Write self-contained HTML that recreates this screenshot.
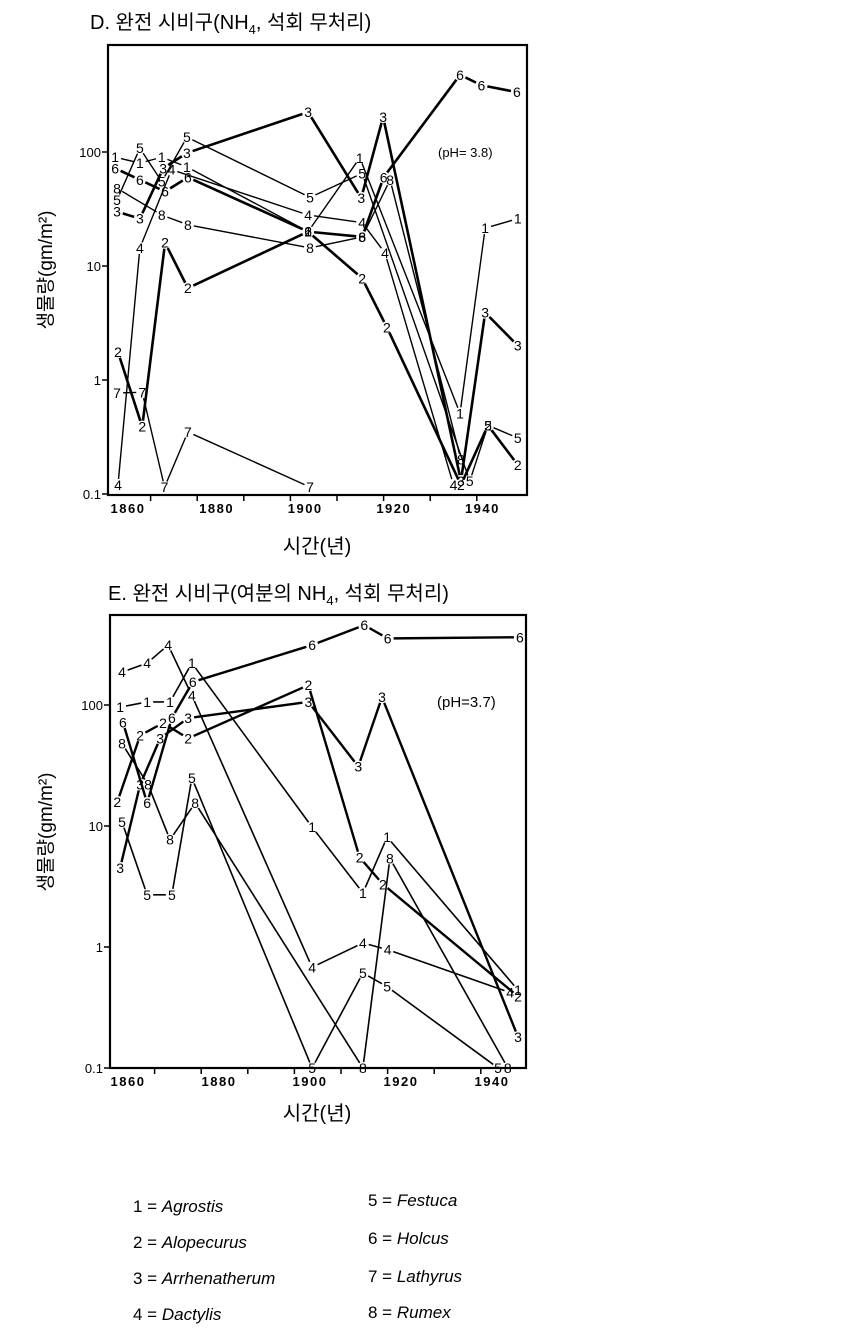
<!DOCTYPE html>
<html><head><meta charset="utf-8">
<style>
body{margin:0;background:#fff;}
svg{display:block;font-family:"Liberation Sans","Noto Sans CJK KR",sans-serif;}
</style></head>
<body>
<svg id="fig" width="865" height="1337" viewBox="0 0 865 1337">
  <text x="90" y="29" font-size="20">D. 완전 시비구(NH<tspan font-size="13" dy="5">4</tspan><tspan dy="-5">, 석회 무처리)</tspan></text>
  <text x="108" y="600" font-size="20">E. 완전 시비구(여분의 NH<tspan font-size="13" dy="5">4</tspan><tspan dy="-5">, 석회 무처리)</tspan></text>
  <text transform="translate(52,270) rotate(-90)" text-anchor="middle" font-size="19">생물량(gm/m²)</text>
  <text transform="translate(52,832) rotate(-90)" text-anchor="middle" font-size="19">생물량(gm/m²)</text>
  <text x="317" y="553" text-anchor="middle" font-size="20">시간(년)</text>
  <text x="317" y="1120" text-anchor="middle" font-size="20">시간(년)</text>
  <text x="438" y="157" font-size="13">(pH= 3.8)</text>
  <text x="437" y="707" font-size="15">(pH=3.7)</text>
  <g id="gd"></g>
  <g id="ge"></g>
  <g font-size="17">
    <text x="133" y="1212">1 = <tspan font-style="italic">Agrostis</tspan></text>
    <text x="133" y="1248">2 = <tspan font-style="italic">Alopecurus</tspan></text>
    <text x="133" y="1284">3 = <tspan font-style="italic">Arrhenatherum</tspan></text>
    <text x="133" y="1320">4 = <tspan font-style="italic">Dactylis</tspan></text>
    <text x="368" y="1206">5 = <tspan font-style="italic">Festuca</tspan></text>
    <text x="368" y="1244">6 = <tspan font-style="italic">Holcus</tspan></text>
    <text x="368" y="1282">7 = <tspan font-style="italic">Lathyrus</tspan></text>
    <text x="368" y="1318">8 = <tspan font-style="italic">Rumex</tspan></text>
  </g>
</svg>
<script>
const yTickValues=[100,10,1,0.1];
const yTickLabels=["100","10","1","0.1"];
const xTickYears=[1870,1880,1890,1900,1910,1920,1930,1940];
const xLabelYears=[1860,1880,1900,1920,1940];
const seriesIds=["1","2","3","4","5","6","7","8"];

const dYears1=[1862.4,1867.7,1872.4,1877.8,1903.8,1914.9,1936.4,1941.8,1948.8];
const dVals1=[90,80,90,74,20,89,0.51,21.5,26];
const dYears2=[1863,1868.2,1873.1,1878,1903.8,1915.4,1920.7,1936.6,1942.4,1948.8];
const dVals2=[1.76,0.39,16,6.4,20,7.8,2.9,0.12,0.4,0.18];
const dYears3=[1862.8,1867.7,1872.7,1877.8,1903.8,1915.2,1919.9,1936.6,1941.8,1948.8];
const dVals3=[30,26,72,98,224,39.5,203,0.13,3.9,2.0];
const dYears4=[1863,1867.7,1874.5,1903.8,1915.4,1920.3,1935];
const dVals4=[0.12,14.4,70,28,24,13,0.12];
const dYears5=[1862.8,1867.7,1872.4,1877.8,1904.2,1915.4,1938.5,1942.4,1948.8];
const dVals5=[38,108,55,135,40,65,0.13,0.4,0.31];
const dYears6=[1862.4,1867.7,1873.1,1878,1903.8,1915.4,1920,1936.4,1941,1948.6];
const dVals6=[72,57,45,60,20,18,60,475,385,335];
const dYears7=[1862.8,1868.2,1873,1878,1904.2];
const dVals7=[0.77,0.78,0.115,0.35,0.115];
const dYears8=[1862.8,1872.4,1878,1904.2,1915.4,1921.4,1936.6];
const dVals8=[48,28,23,14.4,18,57,0.2];

const eYears1=[1862.6,1868.4,1873.3,1878,1903.8,1914.7,1919.9,1948];
const eVals1=[96,106,106,222,9.8,2.8,8.1,0.44];
const eYears2=[1862,1866.9,1871.8,1877.2,1903,1914,1919,1948];
const eVals2=[15.8,56,71,53,146,5.5,3.3,0.39];
const eYears3=[1862.6,1866.9,1871.2,1877.2,1903,1913.7,1918.8,1948];
const eVals3=[4.5,22,53,78,106,31,116,0.18];
const eYears4=[1863,1868.4,1872.9,1878,1903.8,1914.7,1920,1946.3];
const eVals4=[187,222,313,120,0.68,1.08,0.95,0.42];
const eYears5=[1863,1868.4,1873.7,1878,1903.8,1914.7,1919.9,1943.7];
const eVals5=[10.8,2.7,2.7,25,0.1,0.61,0.47,0.1];
const eYears6=[1863.2,1868.4,1873.7,1878.2,1903.8,1915,1920,1948.4];
const eVals6=[72,15.5,78,155,313,457,355,363];
const eYears7=[];
const eVals7=[];
const eYears8=[1863,1868.6,1873.3,1878.7,1914.7,1920.5,1945.8];
const eVals8=[48,22,7.7,15.5,0.1,5.4,0.1];

const NS="http://www.w3.org/2000/svg";
function mk(tag,attrs,parent){const e=document.createElementNS(NS,tag);for(const k in attrs)e.setAttribute(k,attrs[k]);parent.appendChild(e);return e;}

function drawChart(g,cfg,years,vals,widths,prefix){
  const xs=yr=>cfg.x0+(yr-1860)*cfg.xs;
  const xl=yr=>cfg.lx0+(yr-1860)*cfg.lxs;
  const ys=v=>cfg.y1-cfg.dec*Math.log10(v);
  const box=mk('rect',{x:cfg.left,y:cfg.top,width:cfg.right-cfg.left,height:cfg.bottom-cfg.top,fill:'none',stroke:'#000','stroke-width':2.2},g);
  
  
  yTickValues.forEach((v,i)=>{
    const y=ys(v);
    const t=mk('line',{x1:cfg.left-6,x2:cfg.left,y1:y,y2:y,stroke:'#000','stroke-width':1.5},g);
    
    
    const l=mk('text',{x:cfg.left-7,y:y+5,'text-anchor':'end','font-size':13},g);
    l.textContent=yTickLabels[i];
    
    
  });
  xTickYears.forEach(yr=>{
    const x=xs(yr);
    const t=mk('line',{x1:x,x2:x,y1:cfg.bottom,y2:cfg.bottom+6,stroke:'#000','stroke-width':1.5},g);
    
    
  });
  xLabelYears.forEach(yr=>{
    const l=mk('text',{x:xl(yr),y:cfg.bottom+18,'text-anchor':'middle','font-size':13,'font-weight':'bold','letter-spacing':'1.5'},g);
    l.textContent=String(yr);
    
    
  });
  seriesIds.forEach((id,si)=>{
    const Y=years[si],V=vals[si];
    if(!Y.length)return;
    const sg=mk('g',{},g);
    
    
    const pts=Y.map((yr,i)=>[xs(yr),ys(V[i])]);
    for(let i=0;i<pts.length-1;i++){
      const [ax,ay]=pts[i],[bx,by]=pts[i+1];
      const d=Math.hypot(bx-ax,by-ay)||1,g0=6;
      if(d<2*g0)continue;
      const ux=(bx-ax)/d,uy=(by-ay)/d;
      const ln=mk('line',{x1:ax+ux*g0,y1:ay+uy*g0,x2:bx-ux*g0,y2:by-uy*g0,stroke:'#000','stroke-width':widths[si]},sg);
      
      
    }
    pts.forEach(([x,y])=>{
      const t=mk('text',{x:x,y:y+5,'text-anchor':'middle','font-size':14},sg);
      t.textContent=id;
      
      
    });
  });
}

drawChart(document.getElementById('gd'),
  {x0:104,xs:4.66,lx0:128,lxs:4.43,y1:380,dec:114,left:108,right:527,top:45,bottom:495},
  [dYears1,dYears2,dYears3,dYears4,dYears5,dYears6,dYears7,dYears8],
  [dVals1,dVals2,dVals3,dVals4,dVals5,dVals6,dVals7,dVals8],
  [1.4,2.6,2.6,1.4,1.4,2.6,1.4,1.4],'chart-d');
drawChart(document.getElementById('ge'),
  {x0:108,xs:4.66,lx0:128,lxs:4.55,y1:947,dec:121,left:110,right:526,top:615,bottom:1068},
  [eYears1,eYears2,eYears3,eYears4,eYears5,eYears6,eYears7,eYears8],
  [eVals1,eVals2,eVals3,eVals4,eVals5,eVals6,eVals7,eVals8],
  [1.6,2.4,2.4,1.6,1.6,2.4,1.6,1.6],'chart-e');
</script>
</body></html>
